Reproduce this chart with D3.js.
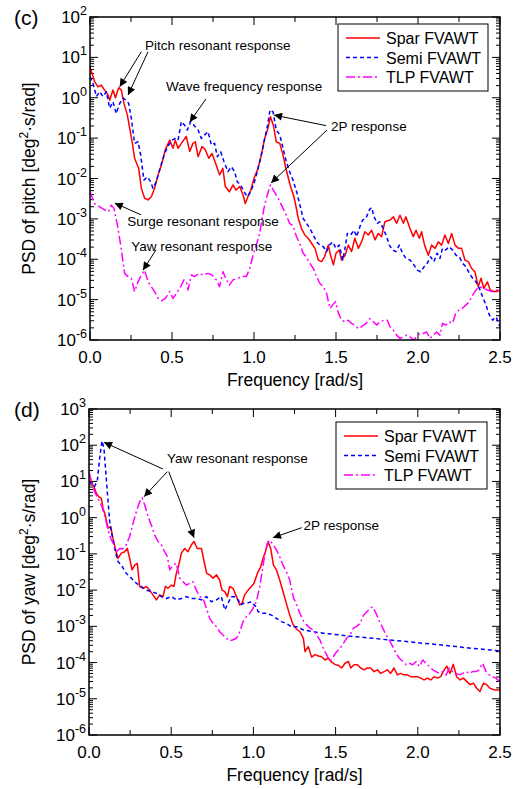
<!DOCTYPE html>
<html>
<head>
<meta charset="utf-8">
<script src="https://cdn.jsdelivr.net/npm/d3@7"></script>
<style>
body{margin:0;background:#fff}
text{font-family:"Liberation Sans",Arial,sans-serif;fill:#000}
</style>
</head>
<body>
<svg id="chart" width="523" height="789"></svg>
<script>

var seriesNames = ["Spar FVAWT","Semi FVAWT","TLP FVAWT"]
var seriesColors = ["#ff0000","#0000ff","#ff00ff"]
var seriesDash = [null,"4,3","9,3,2,3"]

var freqTicks = [0,0.25,0.5,0.75,1.0,1.25,1.5,1.75,2.0,2.25,2.5]
var freqLabels = ["0.0","0.5","1.0","1.5","2.0","2.5"]

// [frequency rad/s, log10 of PSD]
var pitchSpar = [[0,0.76],[0.028,0.40],[0.049,0.27],[0.069,0.31],[0.089,0.19],[0.11,0.07],[0.12,-0.06],[0.14,0.19],[0.155,0.0],[0.175,0.25],[0.191,0.19],[0.207,-0.14],[0.228,-0.43],[0.244,-0.80],[0.26,-1.17],[0.272,-1.50],[0.289,-1.67],[0.297,-1.75],[0.313,-2.24],[0.333,-2.49],[0.354,-2.53],[0.374,-2.45],[0.394,-2.24],[0.415,-1.91],[0.435,-1.67],[0.459,-1.29],[0.486,-1.05],[0.506,-1.25],[0.52,-1.05],[0.537,-1.25],[0.557,-1.13],[0.587,-0.96],[0.608,-1.33],[0.628,-1.13],[0.642,-1.09],[0.659,-1.46],[0.683,-1.21],[0.703,-1.29],[0.724,-1.50],[0.744,-1.38],[0.77,-1.67],[0.79,-1.91],[0.81,-1.75],[0.825,-2.20],[0.85,-2.33],[0.872,-2.16],[0.89,-2.29],[0.913,-2.20],[0.933,-2.41],[0.947,-2.62],[0.963,-2.45],[0.98,-2.29],[1.0,-2.00],[1.024,-1.75],[1.045,-1.42],[1.065,-1.01],[1.085,-0.76],[1.10,-0.47],[1.118,-0.68],[1.136,-1.09],[1.157,-1.13],[1.177,-1.42],[1.197,-1.79],[1.22,-2.16],[1.24,-2.41],[1.25,-2.57],[1.27,-2.99],[1.29,-3.24],[1.31,-3.40],[1.33,-3.48],[1.352,-3.61],[1.372,-3.73],[1.392,-4.02],[1.412,-4.06],[1.43,-3.94],[1.453,-3.65],[1.467,-3.90],[1.484,-4.14],[1.5,-3.85],[1.52,-3.77],[1.534,-4.02],[1.555,-3.90],[1.575,-3.65],[1.595,-3.81],[1.615,-3.48],[1.636,-3.73],[1.656,-3.57],[1.676,-3.32],[1.697,-3.40],[1.717,-3.28],[1.738,-3.52],[1.758,-3.36],[1.778,-3.44],[1.798,-3.07],[1.829,-3.03],[1.85,-2.95],[1.87,-3.11],[1.89,-2.91],[1.911,-3.11],[1.926,-2.95],[1.951,-3.24],[1.971,-3.44],[1.988,-3.28],[2.008,-3.48],[2.022,-3.32],[2.04,-3.65],[2.063,-3.90],[2.083,-3.65],[2.104,-3.73],[2.124,-3.57],[2.144,-3.65],[2.164,-3.40],[2.185,-3.61],[2.205,-3.36],[2.226,-3.65],[2.246,-3.73],[2.266,-3.73],[2.286,-4.02],[2.307,-4.06],[2.327,-4.23],[2.347,-4.31],[2.367,-4.68],[2.384,-4.47],[2.401,-4.72],[2.423,-4.56],[2.44,-4.76],[2.463,-4.80],[2.48,-4.80],[2.5,-4.76]]

var pitchSemi = [[0,0.52],[0.018,0.36],[0.039,0.03],[0.059,0.15],[0.079,0.03],[0.1,0.15],[0.12,-0.26],[0.14,-0.10],[0.16,-0.39],[0.181,-0.14],[0.201,-0.01],[0.22,-0.06],[0.236,-0.14],[0.252,-0.51],[0.272,-1.13],[0.293,-1.09],[0.309,-1.42],[0.329,-2.04],[0.35,-1.96],[0.37,-2.08],[0.384,-2.24],[0.404,-2.08],[0.419,-1.87],[0.439,-1.58],[0.459,-1.34],[0.48,-1.17],[0.5,-1.05],[0.52,-1.01],[0.537,-1.05],[0.557,-0.59],[0.577,-0.68],[0.593,-0.80],[0.614,-0.59],[0.634,-0.68],[0.659,-0.80],[0.679,-1.01],[0.699,-0.92],[0.72,-0.84],[0.74,-1.17],[0.76,-1.13],[0.776,-1.46],[0.797,-1.34],[0.817,-1.58],[0.841,-1.83],[0.862,-1.71],[0.882,-1.83],[0.898,-2.08],[0.919,-2.16],[0.939,-2.33],[0.959,-2.45],[0.98,-2.33],[1.0,-2.12],[1.02,-1.83],[1.04,-1.50],[1.061,-1.09],[1.081,-0.72],[1.098,-0.30],[1.116,-0.35],[1.136,-0.80],[1.157,-0.92],[1.177,-1.25],[1.197,-1.58],[1.217,-1.83],[1.238,-2.04],[1.26,-2.33],[1.28,-2.66],[1.3,-2.99],[1.32,-3.11],[1.341,-3.24],[1.362,-3.40],[1.382,-3.57],[1.402,-3.65],[1.423,-3.69],[1.443,-3.81],[1.459,-3.65],[1.48,-3.57],[1.5,-3.73],[1.52,-3.65],[1.541,-4.02],[1.555,-3.73],[1.569,-3.36],[1.589,-3.40],[1.61,-3.28],[1.626,-3.44],[1.646,-3.19],[1.662,-3.03],[1.682,-2.99],[1.703,-2.78],[1.717,-2.72],[1.732,-2.95],[1.752,-3.11],[1.768,-3.07],[1.788,-3.24],[1.809,-3.44],[1.825,-3.65],[1.845,-3.77],[1.866,-3.81],[1.886,-3.65],[1.906,-3.85],[1.926,-3.98],[1.951,-4.02],[1.975,-4.14],[1.996,-4.27],[2.016,-4.31],[2.036,-4.19],[2.056,-4.10],[2.077,-3.94],[2.097,-4.06],[2.116,-3.85],[2.134,-3.98],[2.149,-3.73],[2.169,-3.77],[2.19,-3.69],[2.211,-3.77],[2.232,-3.90],[2.252,-3.94],[2.272,-4.10],[2.293,-4.19],[2.313,-4.35],[2.333,-4.47],[2.354,-4.56],[2.374,-4.72],[2.394,-4.93],[2.414,-5.13],[2.435,-5.38],[2.455,-5.51],[2.476,-5.43],[2.5,-5.67]]

var pitchTlp = [[0,-2.33],[0.028,-2.62],[0.059,-2.70],[0.089,-2.78],[0.114,-2.82],[0.13,-2.66],[0.146,-2.74],[0.167,-3.15],[0.187,-3.65],[0.211,-4.35],[0.232,-4.43],[0.252,-4.47],[0.272,-4.80],[0.293,-4.56],[0.313,-4.39],[0.333,-4.27],[0.354,-4.56],[0.374,-4.68],[0.394,-4.80],[0.415,-4.97],[0.435,-5.03],[0.459,-4.97],[0.486,-4.80],[0.506,-4.97],[0.526,-4.85],[0.553,-4.68],[0.573,-4.51],[0.587,-4.56],[0.598,-4.76],[0.618,-4.39],[0.638,-4.43],[0.663,-4.35],[0.689,-4.39],[0.72,-4.35],[0.744,-4.39],[0.77,-4.51],[0.79,-4.68],[0.811,-4.31],[0.831,-4.51],[0.85,-4.64],[0.872,-4.51],[0.902,-4.47],[0.927,-4.43],[0.953,-4.43],[0.974,-4.23],[0.994,-3.90],[1.014,-3.65],[1.035,-3.36],[1.049,-2.99],[1.065,-2.66],[1.081,-2.41],[1.10,-2.16],[1.118,-2.29],[1.136,-2.41],[1.157,-2.57],[1.177,-2.74],[1.197,-2.91],[1.217,-3.11],[1.238,-3.17],[1.26,-3.45],[1.28,-3.62],[1.30,-3.85],[1.32,-3.95],[1.341,-4.10],[1.362,-4.23],[1.382,-4.43],[1.402,-4.60],[1.423,-4.68],[1.443,-4.85],[1.463,-5.22],[1.48,-5.13],[1.497,-5.05],[1.515,-5.34],[1.534,-5.51],[1.555,-5.55],[1.575,-5.51],[1.595,-5.59],[1.615,-5.63],[1.636,-5.72],[1.656,-5.67],[1.683,-5.59],[1.707,-5.47],[1.728,-5.55],[1.748,-5.63],[1.768,-5.55],[1.793,-5.51],[1.813,-5.51],[1.829,-5.67],[1.85,-5.76],[1.87,-5.88],[1.89,-5.96],[1.911,-5.92],[1.931,-5.88],[1.951,-5.92],[1.971,-6.0],[1.992,-5.92],[2.012,-5.84],[2.032,-5.84],[2.052,-5.80],[2.073,-5.96],[2.093,-5.88],[2.113,-5.80],[2.134,-5.88],[2.149,-5.59],[2.17,-5.63],[2.19,-5.55],[2.21,-5.59],[2.23,-5.34],[2.25,-5.26],[2.27,-5.22],[2.293,-5.13],[2.313,-5.05],[2.333,-4.89],[2.354,-4.76],[2.374,-4.68],[2.398,-4.72],[2.423,-4.76],[2.45,-4.80],[2.474,-4.76],[2.5,-4.76]]

var yawSpar = [[0,1.22],[0.014,0.99],[0.03,0.86],[0.045,0.67],[0.059,0.58],[0.075,0.53],[0.085,0.26],[0.099,0.07],[0.116,-0.29],[0.132,-0.25],[0.146,-0.57],[0.16,-0.85],[0.176,-1.12],[0.197,-0.98],[0.217,-0.94],[0.233,-0.85],[0.247,-1.12],[0.262,-1.44],[0.278,-1.31],[0.294,-1.26],[0.308,-1.90],[0.329,-1.95],[0.349,-1.90],[0.369,-2.0],[0.389,-2.13],[0.41,-2.27],[0.43,-2.13],[0.45,-2.18],[0.465,-1.90],[0.481,-1.95],[0.501,-1.86],[0.517,-1.90],[0.531,-1.54],[0.546,-1.31],[0.562,-0.98],[0.582,-0.85],[0.602,-0.94],[0.623,-0.75],[0.639,-0.66],[0.659,-0.85],[0.684,-0.85],[0.70,-1.21],[0.716,-1.54],[0.734,-1.58],[0.755,-1.67],[0.775,-1.58],[0.795,-1.72],[0.809,-2.0],[0.826,-2.04],[0.842,-2.18],[0.856,-1.90],[0.876,-1.95],[0.897,-2.18],[0.917,-2.41],[0.931,-2.36],[0.947,-2.13],[0.968,-2.0],[0.988,-1.90],[1.004,-1.81],[1.024,-1.54],[1.045,-1.35],[1.059,-1.12],[1.073,-0.94],[1.089,-0.66],[1.105,-0.85],[1.122,-1.31],[1.14,-1.44],[1.16,-1.72],[1.18,-2.04],[1.2,-2.36],[1.221,-2.69],[1.241,-2.95],[1.263,-3.08],[1.283,-3.15],[1.304,-3.33],[1.314,-3.70],[1.334,-3.56],[1.354,-3.85],[1.375,-3.78],[1.395,-3.82],[1.415,-3.84],[1.436,-3.93],[1.456,-3.88],[1.476,-3.99],[1.496,-4.05],[1.517,-4.08],[1.537,-4.15],[1.557,-4.02],[1.578,-3.97],[1.592,-4.15],[1.612,-4.06],[1.633,-4.06],[1.653,-4.15],[1.673,-4.20],[1.693,-4.15],[1.713,-4.15],[1.734,-4.25],[1.754,-4.20],[1.774,-4.30],[1.795,-4.25],[1.815,-4.20],[1.835,-4.30],[1.855,-4.15],[1.876,-4.34],[1.896,-4.30],[1.916,-4.34],[1.936,-4.34],[1.957,-4.39],[1.977,-4.39],[1.998,-4.39],[2.018,-4.43],[2.038,-4.48],[2.058,-4.43],[2.079,-4.48],[2.099,-4.39],[2.12,-4.43],[2.139,-4.39],[2.155,-4.25],[2.176,-4.10],[2.196,-4.30],[2.216,-4.05],[2.236,-4.39],[2.257,-4.48],[2.277,-4.43],[2.297,-4.52],[2.318,-4.61],[2.338,-4.57],[2.358,-4.71],[2.378,-4.80],[2.399,-4.57],[2.419,-4.61],[2.439,-4.71],[2.469,-4.76],[2.5,-4.76]]

var yawSemi = [[0,0.99],[0.018,0.95],[0.034,0.86],[0.051,1.04],[0.065,1.64],[0.079,2.12],[0.091,1.91],[0.105,1.09],[0.116,0.44],[0.126,-0.11],[0.14,-0.48],[0.156,-0.85],[0.176,-1.21],[0.197,-1.31],[0.227,-1.54],[0.258,-1.67],[0.288,-1.81],[0.318,-1.90],[0.349,-2.0],[0.379,-2.04],[0.41,-2.09],[0.44,-2.18],[0.471,-2.23],[0.501,-2.18],[0.531,-2.27],[0.562,-2.23],[0.592,-2.18],[0.623,-2.23],[0.653,-2.23],[0.684,-2.27],[0.714,-2.18],[0.744,-2.32],[0.775,-2.27],[0.805,-2.18],[0.826,-2.55],[0.846,-2.36],[0.866,-2.18],[0.886,-2.18],[0.907,-2.27],[0.923,-2.41],[0.943,-2.36],[0.963,-2.36],[0.988,-2.32],[1.004,-2.41],[1.018,-2.46],[1.028,-2.59],[1.049,-2.64],[1.079,-2.64],[1.11,-2.69],[1.14,-2.78],[1.17,-2.87],[1.2,-2.92],[1.231,-3.01],[1.263,-3.01],[1.304,-3.10],[1.364,-3.15],[1.425,-3.19],[1.527,-3.24],[1.628,-3.29],[1.729,-3.33],[1.831,-3.38],[1.932,-3.42],[2.034,-3.47],[2.135,-3.51],[2.236,-3.56],[2.338,-3.61],[2.439,-3.65],[2.5,-3.68]]

var yawTlp = [[0,1.27],[0.018,0.90],[0.039,0.67],[0.059,0.49],[0.079,0.30],[0.1,-0.02],[0.116,-0.34],[0.132,-0.57],[0.152,-0.75],[0.166,-0.94],[0.187,-0.85],[0.207,-0.86],[0.227,-0.75],[0.247,-0.52],[0.268,-0.15],[0.288,0.17],[0.308,0.44],[0.323,0.55],[0.339,0.35],[0.359,0.03],[0.379,-0.20],[0.4,-0.48],[0.42,-0.66],[0.44,-0.75],[0.46,-0.94],[0.477,-1.08],[0.491,-1.44],[0.511,-1.31],[0.531,-1.26],[0.552,-1.67],[0.572,-1.77],[0.592,-1.86],[0.613,-1.81],[0.633,-1.77],[0.653,-2.0],[0.673,-2.18],[0.694,-2.23],[0.714,-2.50],[0.734,-2.78],[0.755,-2.92],[0.775,-3.01],[0.795,-3.15],[0.815,-3.24],[0.836,-3.33],[0.856,-3.40],[0.876,-3.37],[0.897,-3.33],[0.917,-3.15],[0.937,-2.87],[0.957,-2.73],[0.978,-2.64],[0.998,-2.50],[1.018,-2.32],[1.039,-1.90],[1.053,-1.49],[1.069,-1.03],[1.085,-0.71],[1.1,-0.62],[1.12,-0.75],[1.14,-0.89],[1.16,-1.08],[1.18,-1.31],[1.2,-1.49],[1.221,-1.72],[1.243,-2.2],[1.263,-2.41],[1.283,-2.64],[1.304,-2.85],[1.324,-2.96],[1.344,-3.05],[1.364,-3.10],[1.385,-3.24],[1.405,-3.38],[1.425,-3.61],[1.446,-3.79],[1.466,-3.97],[1.486,-3.84],[1.506,-3.70],[1.527,-3.61],[1.547,-3.47],[1.567,-3.33],[1.588,-3.24],[1.608,-3.05],[1.628,-3.00],[1.649,-2.92],[1.669,-2.70],[1.69,-2.60],[1.71,-2.50],[1.726,-2.46],[1.746,-2.64],[1.767,-2.87],[1.787,-3.05],[1.807,-3.24],[1.827,-3.38],[1.848,-3.56],[1.868,-3.75],[1.888,-3.88],[1.909,-3.97],[1.929,-4.06],[1.949,-4.02],[1.969,-4.06],[1.99,-3.97],[2.01,-4.11],[2.03,-3.93],[2.05,-4.02],[2.071,-4.11],[2.091,-4.20],[2.111,-4.25],[2.131,-4.30],[2.151,-4.25],[2.172,-4.34],[2.192,-4.15],[2.212,-4.25],[2.232,-4.30],[2.253,-4.34],[2.273,-4.30],[2.293,-4.25],[2.313,-4.30],[2.334,-4.25],[2.354,-4.25],[2.374,-4.20],[2.394,-4.02],[2.415,-4.25],[2.435,-4.34],[2.455,-4.39],[2.475,-4.43],[2.496,-4.52]]

var svg = d3.select("#chart")

var defs = svg.append("defs")
defs.append("marker")
  .attr("id","arrowHead")
  .attr("viewBox","0 0 10 10")
  .attr("refX",10)
  .attr("refY",5)
  .attr("markerWidth",11)
  .attr("markerHeight",8)
  .attr("markerUnits","userSpaceOnUse")
  .attr("orient","auto")
  .append("path")
  .attr("d","M0,0L10,5L0,10z")
  .attr("fill","#000")

function drawPanel(opt)
{
  var g = svg.append("g")

  var x = d3.scaleLinear().domain([0,2.5]).range([opt.left,opt.right])
  var y = d3.scaleLog().domain([Math.pow(10,opt.minExp),Math.pow(10,opt.maxExp)]).range([opt.bottom,opt.top])

  defs.append("clipPath").attr("id","clip"+opt.id)
    .append("rect")
    .attr("x",opt.left).attr("y",opt.top)
    .attr("width",opt.right-opt.left).attr("height",opt.bottom-opt.top)

  // log ticks (left and right, pointing inward)
  var logTicks = []
  for(var e = opt.minExp; e < opt.maxExp; e++){
    for(var m = 1; m < 10; m++){
      logTicks.push({v:m*Math.pow(10,e), major:m==1})
    }
  }
  logTicks.push({v:Math.pow(10,opt.maxExp), major:true})

  g.selectAll(".ytickL").data(logTicks).enter().append("line")
    .attr("x1",opt.left)
    .attr("x2",function(d){ return opt.left + (d.major ? 8 : 4) })
    .attr("y1",function(d){ return y(d.v) })
    .attr("y2",function(d){ return y(d.v) })
    .attr("stroke","#000").attr("stroke-width",1)

  g.selectAll(".ytickR").data(logTicks).enter().append("line")
    .attr("x1",opt.right)
    .attr("x2",function(d){ return opt.right - (d.major ? 8 : 4) })
    .attr("y1",function(d){ return y(d.v) })
    .attr("y2",function(d){ return y(d.v) })
    .attr("stroke","#000").attr("stroke-width",1)

  g.selectAll(".xtickB").data(freqTicks).enter().append("line")
    .attr("x1",function(d){ return x(d) })
    .attr("x2",function(d){ return x(d) })
    .attr("y1",opt.bottom)
    .attr("y2",function(d,i){ return opt.bottom - (i%2==0 ? 8 : 5) })
    .attr("stroke","#000").attr("stroke-width",1)

  g.selectAll(".xtickT").data(freqTicks).enter().append("line")
    .attr("x1",function(d){ return x(d) })
    .attr("x2",function(d){ return x(d) })
    .attr("y1",opt.top)
    .attr("y2",function(d,i){ return opt.top + (i%2==0 ? 8 : 5) })
    .attr("stroke","#000").attr("stroke-width",1)

  // y labels 10^n
  var exps = d3.range(opt.minExp, opt.maxExp+1)
  var ylab = g.selectAll(".ylab").data(exps).enter().append("text")
    .attr("x",opt.left-3)
    .attr("y",function(d){ return y(Math.pow(10,d)) + 6 })
    .attr("text-anchor","end")
    .style("font-size","17px")
  ylab.append("tspan").text("10")
  ylab.append("tspan").attr("dy",-8).style("font-size","12.5px").text(function(d){ return d })

  g.selectAll(".xlab").data(freqLabels).enter().append("text")
    .attr("x",function(d){ return x(+d) })
    .attr("y",opt.bottom+23)
    .attr("text-anchor","middle")
    .style("font-size","17px")
    .text(function(d){ return d })

  g.append("text")
    .attr("x",(opt.left+opt.right)/2)
    .attr("y",opt.bottom+46)
    .attr("text-anchor","middle")
    .style("font-size","17.5px")
    .text("Frequency [rad/s]")

  var yt = g.append("text")
    .attr("transform","translate(35,"+((opt.top+opt.bottom)/2)+") rotate(-90)")
    .attr("text-anchor","middle")
    .style("font-size","17.5px")
  yt.append("tspan").text(opt.ylabel+" [deg")
  yt.append("tspan").attr("dy",-7).style("font-size","12px").text("2")
  yt.append("tspan").attr("dy",7).text("\u00b7s/rad]")

  g.append("text")
    .attr("x",14)
    .attr("y",opt.panelY)
    .style("font-size","21px")
    .text(opt.panel)

  // curves
  var line = d3.line()
    .x(function(d){ return x(d[0]) })
    .y(function(d){ return y(Math.pow(10,d[1])) })

  var curves = g.append("g").attr("clip-path","url(#clip"+opt.id+")")
  curves.selectAll("path").data(opt.series).enter().append("path")
    .attr("d",function(d){ return line(d) })
    .attr("fill","none")
    .attr("stroke",function(d,i){ return seriesColors[i] })
    .attr("stroke-width",1.5)
    .attr("stroke-dasharray",function(d,i){ return seriesDash[i] })
    .attr("stroke-linejoin","round")

  // annotations
  g.selectAll(".note").data(opt.notes).enter().append("text")
    .attr("x",function(d){ return x(d.at[0]) })
    .attr("y",function(d){ return y(Math.pow(10,d.at[1])) })
    .style("font-size","13.5px")
    .text(function(d){ return d.text })

  g.selectAll(".arrow").data(opt.arrows).enter().append("line")
    .attr("x1",function(d){ return x(d[0][0]) })
    .attr("y1",function(d){ return y(Math.pow(10,d[0][1])) })
    .attr("x2",function(d){ return x(d[1][0]) })
    .attr("y2",function(d){ return y(Math.pow(10,d[1][1])) })
    .attr("stroke","#000")
    .attr("stroke-width",1)
    .attr("marker-end","url(#arrowHead)")

  // legend
  var lg = opt.legend
  g.append("rect")
    .attr("x",lg.x).attr("y",lg.y)
    .attr("width",lg.w).attr("height",lg.h)
    .attr("fill","#fff").attr("stroke","#000").attr("stroke-width",1)

  var items = g.selectAll(".leg").data(seriesNames).enter().append("g")
    .attr("transform",function(d,i){ return "translate("+lg.x+","+(lg.y+14+i*19.5)+")" })
  items.append("line")
    .attr("x1",8).attr("x2",42)
    .attr("stroke",function(d,i){ return seriesColors[i] })
    .attr("stroke-width",1.5)
    .attr("stroke-dasharray",function(d,i){ return seriesDash[i] })
  items.append("text")
    .attr("x",48).attr("y",6)
    .style("font-size","16px")
    .text(function(d){ return d })

  g.append("rect")
    .attr("x",opt.left).attr("y",opt.top)
    .attr("width",opt.right-opt.left).attr("height",opt.bottom-opt.top)
    .attr("fill","none").attr("stroke","#000").attr("stroke-width",1.5)
}

drawPanel({
  id:"c", left:90, right:500, top:17, bottom:340, minExp:-6, maxExp:2,
  panel:"(c)", panelY:25, ylabel:"PSD of pitch",
  series:[pitchSpar,pitchSemi,pitchTlp],
  legend:{x:338,y:24,w:150,h:67},
  notes:[
    {text:"Pitch resonant response", at:[0.335,1.18]},
    {text:"Wave frequency response", at:[0.463,0.167]},
    {text:"2P response", at:[1.47,-0.82]},
    {text:"Surge resonant response", at:[0.227,-3.18]},
    {text:"Yaw resonant response", at:[0.252,-3.80]}
  ],
  arrows:[
    [[0.313,1.14],[0.181,0.274]],
    [[0.354,1.14],[0.232,0.068]],
    [[0.707,-0.03],[0.608,-0.60]],
    [[1.439,-0.69],[1.122,-0.43]],
    [[1.445,-0.80],[1.104,-2.11]],
    [[0.311,-2.90],[0.151,-2.61]],
    [[0.402,-3.77],[0.323,-4.27]]
  ]
})

drawPanel({
  id:"d", left:89, right:500, top:409, bottom:735, minExp:-6, maxExp:3,
  panel:"(d)", panelY:417, ylabel:"PSD of yaw",
  series:[yawSpar,yawSemi,yawTlp],
  legend:{x:336,y:422,w:151,h:67},
  notes:[
    {text:"Yaw resonant response", at:[0.474,1.509]},
    {text:"2P response", at:[1.304,-0.341]}
  ],
  arrows:[
    [[0.450,1.343],[0.091,2.081]],
    [[0.476,1.269],[0.335,0.579]],
    [[0.485,1.269],[0.639,-0.553]],
    [[1.294,-0.277],[1.119,-0.553]]
  ]
})

</script>
</body>
</html>
